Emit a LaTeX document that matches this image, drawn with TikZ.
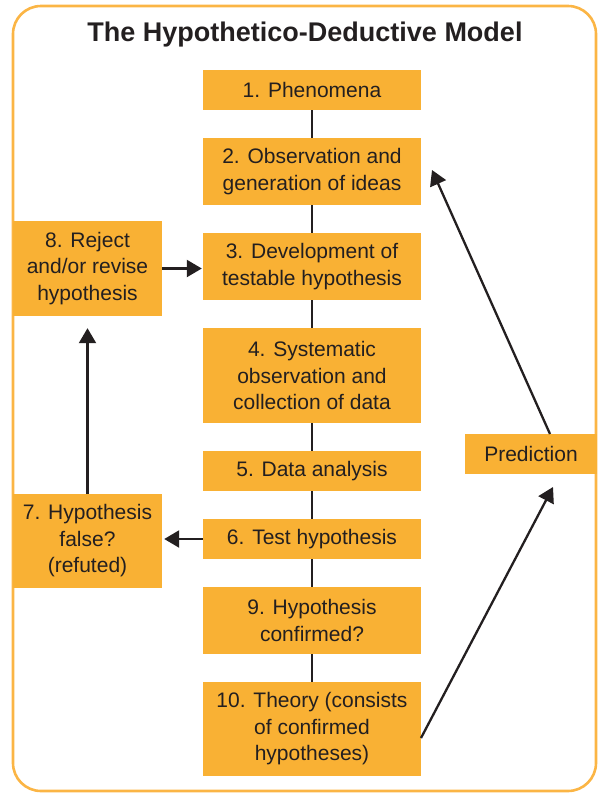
\documentclass[tikz,border=0pt]{standalone}
\usepackage{fontspec}
\setmainfont{Liberation Sans}
\usetikzlibrary{arrows.meta}
\definecolor{boxorange}{HTML}{F9B134}
\definecolor{frameorange}{HTML}{FBB545}
\definecolor{inkdark}{HTML}{231F20}
\tikzset{
  stage/.style={fill=boxorange, text=inkdark, align=center, inner sep=0pt,
    font=\fontsize{21}{26.5}\selectfont},
  mainbox/.style={stage, minimum width=218pt},
  sidebox/.style={stage, minimum width=149pt},
  flowarrow/.style={draw=inkdark, line width=2.3pt, -{Triangle[length=15pt,width=17pt]}},
  spine/.style={draw=inkdark, line width=1.8pt}
}
\begin{document}
\begin{tikzpicture}[x=1pt,y=-1pt]
  \useasboundingbox (0,0) rectangle (598,793);
  % outer frame
  \draw[frameorange, line width=2.6pt, rounded corners=28pt] (13,6) rectangle (596,791);
  \node[font=\bfseries\fontsize{27}{30}\selectfont, text=inkdark] (title) at (305,35) {The Hypothetico-Deductive Model};

  % central column
  \coordinate (spinetop) at (312,90);
  \coordinate (spinebot) at (312,729);
  \draw[spine] (spinetop) -- (spinebot);

  \node[mainbox, minimum height=40pt] (b1) at (312,90) {1. Phenomena};
  \node[mainbox, minimum height=67pt] (b2) at (312,171.5) {2. Observation and\\generation of ideas};
  \node[mainbox, minimum height=67pt] (b3) at (312,266.5) {3. Development of\\testable hypothesis};
  \node[mainbox, minimum height=95pt] (b4) at (312,375.5) {4. Systematic\\observation and\\collection of data};
  \node[mainbox, minimum height=40pt] (b5) at (312,471) {5. Data analysis};
  \node[mainbox, minimum height=40pt] (b6) at (312,539) {6. Test hypothesis};
  \node[mainbox, minimum height=67pt] (b9) at (312,620.5) {9. Hypothesis\\confirmed?};
  \node[mainbox, minimum height=94pt] (b10) at (312,729) {10. Theory (consists\\of confirmed\\hypotheses)};

  % side boxes
  \node[sidebox, minimum height=95pt] (b8) at (87.5,268.5) {8. Reject\\and/or revise\\hypothesis};
  \node[sidebox, minimum height=94pt] (b7) at (87.5,541) {7. Hypothesis\\false?\\(refuted)};
  \node[stage, minimum width=132pt, minimum height=40pt] (pred) at (531,454) {Prediction};

  % connectors
  \draw[flowarrow] (b8.east) -- ([xshift=-1pt]b8.east -| b3.west);
  \draw[flowarrow] (b6.west) -- ([xshift=2pt]b6.west -| b7.east);
  \draw[flowarrow, shorten >=12pt] (b7.north) -- (b8.south);

  \coordinate (predtop) at (550,434);
  \coordinate (obsend) at (432,170);
  \draw[flowarrow] (predtop) -- (obsend);

  \coordinate (theoryout) at (421,738);
  \coordinate (predin) at (553,487);
  \draw[flowarrow] (theoryout) -- (predin);
\end{tikzpicture}
\end{document}
